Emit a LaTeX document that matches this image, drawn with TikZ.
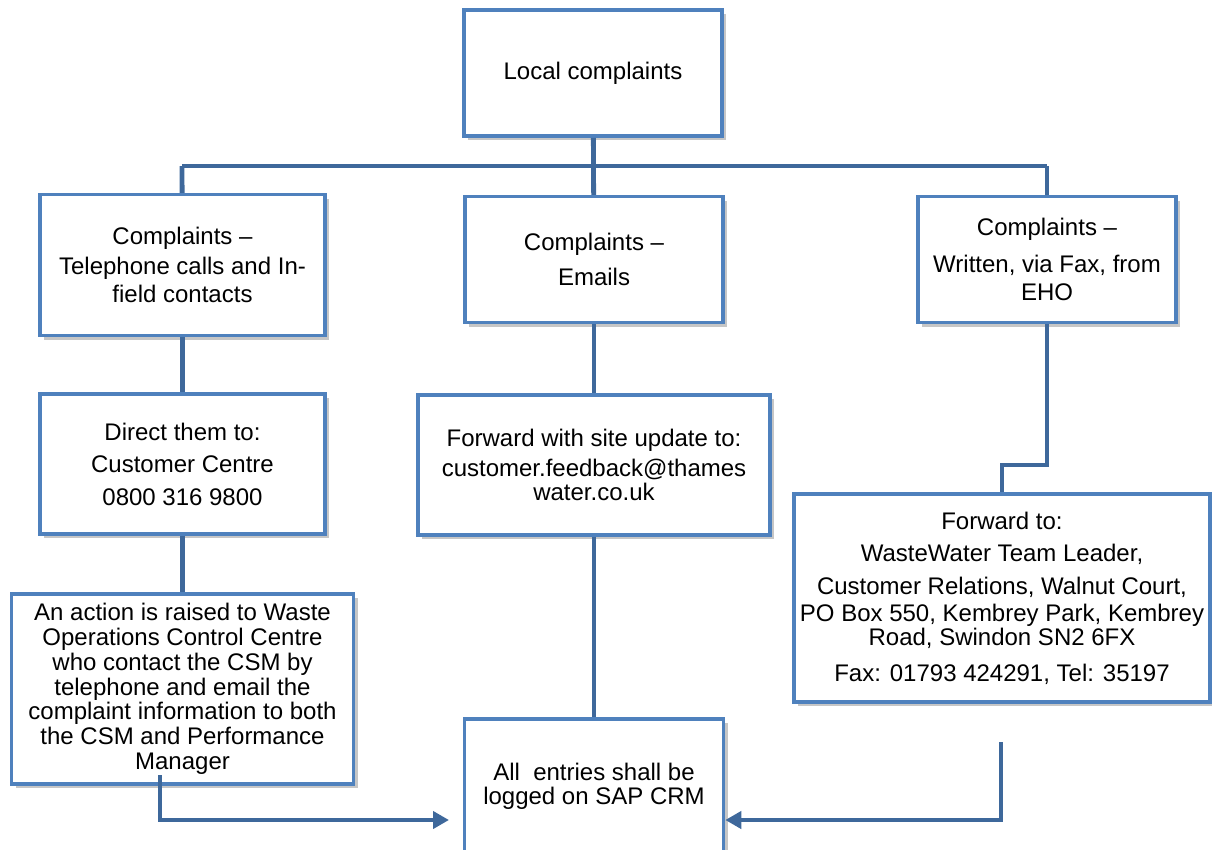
\documentclass[tikz,border=0pt]{standalone}
\usepackage{fontspec}
\setmainfont{Liberation Sans}
\usetikzlibrary{positioning,shadows,arrows.meta}
\definecolor{boxblue}{RGB}{79,129,189}
\definecolor{lineblue}{RGB}{62,104,155}
\begin{document}
\begin{tikzpicture}[node distance=57pt,
                    box node/.style={rectangle,draw=boxblue,line width=3.6pt,fill=white,align=center,inner sep=2pt,
                      font=\fontsize{24}{24.7}\selectfont,
                      drop shadow={shadow xshift=4pt,shadow yshift=-4pt,fill=black!50,opacity=0.45}},
                    link/.style={draw=lineblue,line width=4.8pt},
                    arrow/.style={link,-{Triangle[length=16pt,width=17pt]}}]

	\useasboundingbox (0,0) rectangle (1212pt,-849pt);

	\node[box node,minimum width=258pt,minimum height=126pt] (1) at (593pt,-73pt) {Local complaints};

	\node[box node,minimum width=285pt,minimum height=141pt] (2) [below=55pt of 1,xshift=-410.5pt]
		{Complaints --\\[5pt]Telephone calls and In-\\[4pt]field contacts};
	\node[box node,minimum width=258pt,minimum height=126pt] (3) [below=57pt of 1,xshift=1pt]
		{Complaints --\\[10pt]Emails};
	\node[box node,minimum width=258pt,minimum height=126pt] (4) [below=57pt of 1,xshift=454pt]
		{Complaints --\\[12pt]Written, via Fax, from\\[3pt]EHO};

	\node[box node,minimum width=285pt,minimum height=140pt] (5) [below=55pt of 2]
		{Direct them to:\\[8pt]Customer Centre\\[8pt]0800 316 9800};
	\node[box node,minimum width=352pt,minimum height=140pt] (7) [below=69pt of 3]
		{Forward with site update to:\\[5pt]customer.feedback@thames\\water.co.uk};
	\node[box node,minimum width=416pt,minimum height=208pt] (9) [below=168pt of 4,xshift=-45pt]
		{Forward to:\\[8pt]WasteWater Team Leader,\\[8pt]Customer Relations, Walnut Court,\\[2pt]PO Box 550, Kembrey Park, Kembrey\\Road, Swindon SN2 6FX\\[11pt]Fax: 01793 424291, Tel: 35197};

	\node[box node,minimum width=342pt,minimum height=190pt] (6) [below=56pt of 5]
		{An action is raised to Waste\\Operations Control Centre\\who contact the CSM by\\telephone and email the\\complaint information to both\\the CSM and Performance\\Manager};
	% bottom edge runs off the page, as in the original
	\node[box node,minimum width=259pt,minimum height=142pt,text depth=12pt] (8) [below=180pt of 7]
		{All~ entries shall be\\logged on SAP CRM};

	\coordinate (busL) at (182pt,-166pt);
	\coordinate (busR) at (1047pt,-166pt);
	\coordinate (jog) at (9.north |- 0,-465pt);
	\coordinate (lin) at (160pt,-775pt);
	\coordinate (rin) at (1001pt,-742pt);
	\coordinate (lend) at (449pt,-820pt);

  \path[link]
    (busL) edge (busR)
    (1) edge (3)
    (busL) edge (2)
    (busR) edge (4)
    (2) edge (5)
    (5) edge (6)
    (3) edge (7)
    (7) edge (8)
    ;

	\draw[link] (4.south) |- (jog) -- (9.north);
	\draw[arrow] (lin) |- (lend);
	\draw[arrow] (rin) |- (8.east |- lend);

\end{tikzpicture}
\end{document}
